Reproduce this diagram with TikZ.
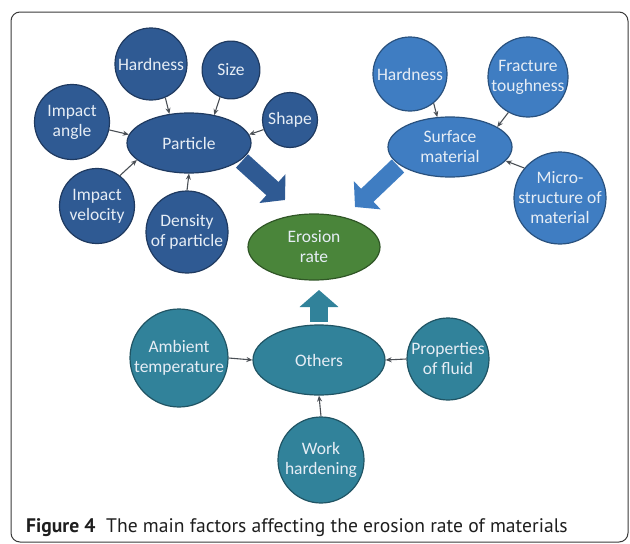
\documentclass[tikz,border=0pt]{standalone}
\usepackage{fontspec}
\setmainfont{Carlito}
\newfontfamily\capfont{PT Sans}
\usetikzlibrary{shapes.geometric,arrows.meta}
\definecolor{partcol}{HTML}{2F5A93}
\definecolor{surfcol}{HTML}{3F7DC2}
\definecolor{othcol}{HTML}{31829A}
\definecolor{erocol}{HTML}{4A853A}
\definecolor{txtcol}{HTML}{E6EDF5}
\definecolor{arrcol}{HTML}{4A4F55}
\definecolor{framecol}{HTML}{3A3A3A}
\definecolor{captcol}{HTML}{1E1E1E}
\begin{document}
\begin{tikzpicture}[x=1pt,y=-1pt,
    font=\fontsize{17.5}{20}\selectfont,
    factor/.style={circle,draw=#1!65!black,fill=#1,line width=1.2pt,
      inner sep=-30pt,text=txtcol,align=center},
    group/.style={ellipse,draw=#1!65!black,fill=#1,line width=1.2pt,
      inner sep=0pt,text=txtcol,align=center},
    feed/.style={-{Stealth[length=6pt,width=5pt]},line width=1.1pt,draw=arrcol},
    push/.style={line width=18pt,draw=#1,-{Triangle[length=17pt,width=38pt]}}]
	\useasboundingbox (0,0) rectangle (630,544);
	\draw[framecol,line width=1pt,rounded corners=9pt] (11,12) rectangle (628,542);
	% particle
	\node[group=partcol,minimum width=124pt,minimum height=60pt] (part) at (189,143) {Particle};
	\node[factor=partcol,minimum size=72pt] (phard) at (151,64) {Hardness};
	\node[factor=partcol,minimum size=55pt] (psize) at (231,70) {Size};
	\node[factor=partcol,minimum size=55pt] (pshape) at (290,120) {Shape};
	\node[factor=partcol,minimum size=75pt] (pangle) at (72,122) {Impact\\angle};
	\node[factor=partcol,minimum size=75pt] (pvel) at (97,206) {Impact\\velocity};
	\node[factor=partcol,minimum size=82pt] (pdens) at (187,232) {Density\\of particle};
	% surface
	\node[group=surfcol,minimum width=124pt,minimum height=60pt] (surf) at (450,147) {Surface\\material};
	\node[factor=surfcol,minimum size=74pt] (shard) at (410,74) {Hardness};
	\node[factor=surfcol,minimum size=80pt] (stough) at (528,77) {Fracture\\toughness};
	\node[factor=surfcol,minimum size=92pt] (smicro) at (560,198) {Micro-\\structure of\\material};
	% erosion rate
	\node[group=erocol,minimum width=132pt,minimum height=66pt] (ero) at (314,247) {Erosion\\rate};
	% others
	\node[group=othcol,minimum width=132pt,minimum height=70pt] (oth) at (319,360) {Others};
	\node[factor=othcol,minimum size=98pt] (oamb) at (179,358) {Ambient\\temperature};
	\node[factor=othcol,minimum size=82pt] (oprop) at (448,359) {Properties\\of fluid};
	\node[factor=othcol,minimum size=86pt] (owork) at (321,460) {Work\\hardening};
	% small arrows
	\draw[feed] (phard.-67) -- (part.124);
	\draw[feed] (psize.-112) -- (part.48);
	\draw[feed] (pshape.200) -- (part.8);
	\draw[feed] (pangle.-12) -- (part.172);
	\draw[feed] (pvel.53) -- (part.198);
	\draw[feed] (pdens.north) -- (part.south);
	\draw[feed] (shard.-51) -- (surf.113);
	\draw[feed] (stough.-119) -- (surf.23);
	\draw[feed] (smicro.140) -- (surf.-14);
	\draw[feed] (oamb.east) -- (oth.west);
	\draw[feed] (oprop.west) -- (oth.east);
	\draw[feed] (owork.north) -- (oth.south);
	% big arrows
	\coordinate (ptail) at (242,161);
	\coordinate (ptip) at (285,200);
	\coordinate (stail) at (398,166);
	\coordinate (stip) at (355,207);
	\coordinate (otail) at (319,322);
	\coordinate (otip) at (319,290);
	\draw[push=partcol] (ptail) -- (ptip);
	\draw[push=surfcol] (stail) -- (stip);
	\draw[push=othcol] (otail) -- (otip);
	% caption
	\node[anchor=base west,inner sep=0pt,text=captcol,font=\capfont\fontsize{19.6}{22}\selectfont] (cap) at (26,532)
	  {\textbf{Figure 4}\hspace{0.55em}The main factors affecting the erosion rate of materials};
\end{tikzpicture}
\end{document}
